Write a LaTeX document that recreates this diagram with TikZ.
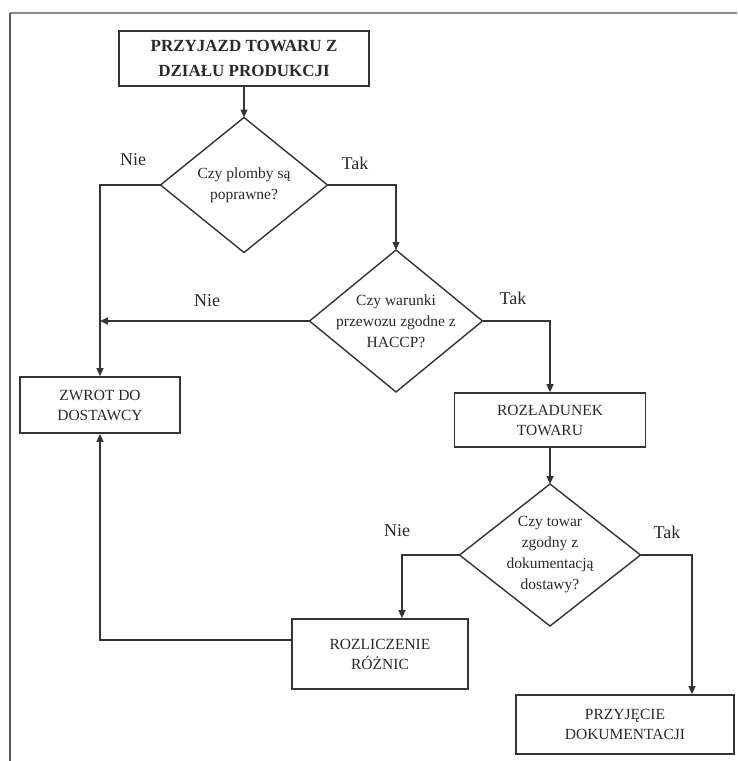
\documentclass[tikz,border=0pt]{standalone}
\usepackage{fontspec}
\setmainfont{Liberation Serif}
\usetikzlibrary{shapes.geometric,arrows.meta}
\definecolor{linec}{HTML}{333333}
\definecolor{textc}{HTML}{2A2A2A}
\definecolor{framec}{HTML}{8C8C8C}
\definecolor{framel}{HTML}{5A5A5A}
\begin{document}
\begin{tikzpicture}[x=1pt,y=-1pt,
  box/.style={draw=linec, line width=1.7pt, align=center, inner sep=0pt, text=textc, font=\fontsize{15.5}{20}\selectfont},
  dec/.style={diamond, draw=linec, line width=1.4pt, inner sep=0pt, outer sep=0pt},
  dtext/.style={align=center, text=textc, font=\fontsize{15.5}{21}\selectfont},
  ans/.style={text=textc, font=\fontsize{18}{18}\selectfont},
  conn/.style={draw=linec, line width=1.4pt},
  arr/.style={conn, -{Triangle[length=8pt,width=7pt]}}]
\useasboundingbox[fill=white] (0,0) rectangle (737,761);
\draw[framec, line width=1.5pt] (10,13) -- (737,13);
\draw[framel, line width=1.3pt] (10,13) -- (10,761);
\node[box, font=\bfseries\fontsize{17}{25}\selectfont, minimum width=250, minimum height=55] (start) at (244,58.5) {PRZYJAZD TOWARU Z\\DZIAŁU PRODUKCJI};
\node[dec, minimum width=167, minimum height=135] (d1) at (244,185) {};
\node[dtext] (d1t) at (d1) {Czy plomby są\\poprawne?};
\node[dec, minimum width=173, minimum height=142] (d2) at (396,321) {};
\node[dtext] (d2t) at (d2) {Czy warunki\\przewozu zgodne z\\HACCP?};
\node[box, minimum width=160, minimum height=56] (zwrot) at (100,405) {ZWROT DO\\DOSTAWCY};
\node[box, minimum width=191, minimum height=54] (rozl) at (550,420) {ROZŁADUNEK\\TOWARU};
\node[dec, minimum width=181, minimum height=142] (d3) at (550,555) {};
\node[dtext] (d3t) at (d3) {Czy towar\\zgodny z\\dokumentacją\\dostawy?};
\node[box, minimum width=176, minimum height=70] (rozn) at (380,654) {ROZLICZENIE\\RÓŻNIC};
\node[box, minimum width=218, minimum height=59] (przyj) at (625,724.5) {PRZYJĘCIE\\DOKUMENTACJI};
\node[ans] (nie1) at (133,160) {Nie};
\node[ans] (tak1) at (355,163) {Tak};
\node[ans] (nie2) at (207,301) {Nie};
\node[ans] (tak2) at (513,298) {Tak};
\node[ans] (nie3) at (397,531) {Nie};
\node[ans] (tak3) at (667,532) {Tak};
\draw[arr] (start.south) -- (d1.north);
\draw[arr] (d1.east) -| (d2.north);
\draw[arr] (d1.west) -| (zwrot.north);
\draw[arr] (d2.west) -- (d2.west -| zwrot.north);
\draw[arr] (d2.east) -| (rozl.north);
\draw[arr] (rozl.south) -- (d3.north);
\draw[arr] (d3.west) -| ([xshift=22pt]rozn.north);
\draw[arr] (d3.east) -| ([xshift=67pt]przyj.north);
\draw[arr] ([yshift=14pt]rozn.west) -| (zwrot.south);
\end{tikzpicture}
\end{document}
